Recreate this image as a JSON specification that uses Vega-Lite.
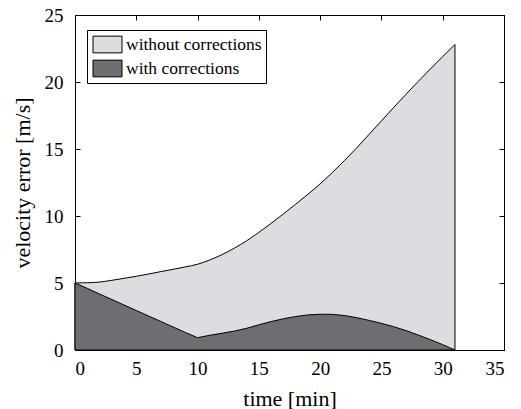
{
  "$schema": "https://vega.github.io/schema/vega-lite/v6.json",
  "width": 429,
  "height": 335,
  "autosize": "none",
  "padding": {"left": 75, "top": 15, "right": 17, "bottom": 59},
  "background": "white",
  "config": {
    "view": {"stroke": "black", "strokeWidth": 1},
    "font": "Liberation Serif",
    "axis": {
      "grid": false,
      "domainColor": "black",
      "domainWidth": 1,
      "tickColor": "black",
      "tickWidth": 1,
      "tickSize": -5,
      "labelFont": "Liberation Serif",
      "labelFontSize": 19,
      "labelColor": "black",
      "titleFont": "Liberation Serif",
      "titleFontSize": 22,
      "titleFontWeight": "normal",
      "titleColor": "black"
    },
    "legend": {"labelFont": "Liberation Serif", "labelFontSize": 17.5}
  },
  "datasets": {
    "without": [
      {"t": 0, "v": 5.0, "series": "without corrections"},
      {"t": 1, "v": 5.02, "series": "without corrections"},
      {"t": 2, "v": 5.07, "series": "without corrections"},
      {"t": 3, "v": 5.2, "series": "without corrections"},
      {"t": 4, "v": 5.35, "series": "without corrections"},
      {"t": 5, "v": 5.5, "series": "without corrections"},
      {"t": 6, "v": 5.67, "series": "without corrections"},
      {"t": 7, "v": 5.85, "series": "without corrections"},
      {"t": 8, "v": 6.02, "series": "without corrections"},
      {"t": 9, "v": 6.2, "series": "without corrections"},
      {"t": 10, "v": 6.4, "series": "without corrections"},
      {"t": 11, "v": 6.72, "series": "without corrections"},
      {"t": 12, "v": 7.12, "series": "without corrections"},
      {"t": 13, "v": 7.6, "series": "without corrections"},
      {"t": 14, "v": 8.15, "series": "without corrections"},
      {"t": 15, "v": 8.78, "series": "without corrections"},
      {"t": 16, "v": 9.45, "series": "without corrections"},
      {"t": 17, "v": 10.15, "series": "without corrections"},
      {"t": 18, "v": 10.88, "series": "without corrections"},
      {"t": 19, "v": 11.62, "series": "without corrections"},
      {"t": 20, "v": 12.4, "series": "without corrections"},
      {"t": 21, "v": 13.25, "series": "without corrections"},
      {"t": 22, "v": 14.15, "series": "without corrections"},
      {"t": 23, "v": 15.1, "series": "without corrections"},
      {"t": 24, "v": 16.1, "series": "without corrections"},
      {"t": 25, "v": 17.1, "series": "without corrections"},
      {"t": 26, "v": 18.1, "series": "without corrections"},
      {"t": 27, "v": 19.08, "series": "without corrections"},
      {"t": 28, "v": 20.04, "series": "without corrections"},
      {"t": 29, "v": 20.98, "series": "without corrections"},
      {"t": 30, "v": 21.9, "series": "without corrections"},
      {"t": 31, "v": 22.8, "series": "without corrections"}
    ],
    "with": [
      {"t": 0, "v": 5.0, "series": "with corrections"},
      {"t": 1, "v": 4.6, "series": "with corrections"},
      {"t": 2, "v": 4.18, "series": "with corrections"},
      {"t": 3, "v": 3.77, "series": "with corrections"},
      {"t": 4, "v": 3.36, "series": "with corrections"},
      {"t": 5, "v": 2.95, "series": "with corrections"},
      {"t": 6, "v": 2.54, "series": "with corrections"},
      {"t": 7, "v": 2.13, "series": "with corrections"},
      {"t": 8, "v": 1.72, "series": "with corrections"},
      {"t": 9, "v": 1.31, "series": "with corrections"},
      {"t": 10, "v": 0.92, "series": "with corrections"},
      {"t": 11, "v": 1.1, "series": "with corrections"},
      {"t": 12, "v": 1.25, "series": "with corrections"},
      {"t": 13, "v": 1.41, "series": "with corrections"},
      {"t": 14, "v": 1.62, "series": "with corrections"},
      {"t": 15, "v": 1.88, "series": "with corrections"},
      {"t": 16, "v": 2.12, "series": "with corrections"},
      {"t": 17, "v": 2.33, "series": "with corrections"},
      {"t": 18, "v": 2.5, "series": "with corrections"},
      {"t": 19, "v": 2.62, "series": "with corrections"},
      {"t": 20, "v": 2.67, "series": "with corrections"},
      {"t": 21, "v": 2.66, "series": "with corrections"},
      {"t": 22, "v": 2.57, "series": "with corrections"},
      {"t": 23, "v": 2.41, "series": "with corrections"},
      {"t": 24, "v": 2.21, "series": "with corrections"},
      {"t": 25, "v": 1.99, "series": "with corrections"},
      {"t": 26, "v": 1.74, "series": "with corrections"},
      {"t": 27, "v": 1.45, "series": "with corrections"},
      {"t": 28, "v": 1.12, "series": "with corrections"},
      {"t": 29, "v": 0.77, "series": "with corrections"},
      {"t": 30, "v": 0.4, "series": "with corrections"},
      {"t": 31, "v": 0.0, "series": "with corrections"}
    ]
  },
  "layer": [
    {
      "data": {"name": "without"},
      "mark": {"type": "area", "stroke": "black", "strokeWidth": 1, "opacity": 1, "interpolate": "monotone"},
      "encoding": {
        "x": {
          "field": "t", "type": "quantitative",
          "scale": {"domain": [0, 35], "nice": false, "zero": false},
          "axis": {"orient": "bottom", "values": [0, 5, 10, 15, 20, 25, 30, 35], "title": "time [min]", "labelPadding": 14, "titlePadding": 10}
        },
        "y": {
          "field": "v", "type": "quantitative", "stack": null,
          "scale": {"domain": [0, 25], "nice": false},
          "axis": {"orient": "left", "values": [0, 5, 10, 15, 20, 25], "title": "velocity error [m/s]", "labelPadding": 17, "titlePadding": 10}
        },
        "color": {
          "field": "series", "type": "nominal",
          "scale": {"domain": ["without corrections", "with corrections"], "range": ["#dcdde0", "#6d6e72"]},
          "legend": {
            "title": null,
            "orient": "none",
            "legendX": 12,
            "legendY": 15,
            "padding": 4,
            "rowPadding": 3,
            "strokeColor": "black",
            "fillColor": "white",
            "symbolType": "M-1.45,-0.835H1.45V0.835H-1.45Z",
            "symbolSize": 400,
            "symbolStrokeColor": "black",
            "symbolStrokeWidth": 1,
            "symbolOpacity": 1,
            "symbolOffset": 6,
            "labelOffset": 8,
            "labelFont": "Liberation Serif",
            "labelFontSize": 17.5,
            "labelColor": "black",
            "labelLimit": 300
          }
        }
      }
    },
    {
      "data": {"name": "with"},
      "mark": {"type": "area", "stroke": "black", "strokeWidth": 1, "opacity": 1, "interpolate": "linear"},
      "encoding": {
        "x": {"field": "t", "type": "quantitative", "axis": null},
        "y": {"field": "v", "type": "quantitative", "stack": null, "axis": null},
        "color": {"field": "series", "type": "nominal"}
      }
    },
    {
      "data": {"name": "without"},
      "mark": {"type": "point", "opacity": 0},
      "encoding": {
        "x": {
          "field": "t", "type": "quantitative",
          "axis": {"orient": "top", "values": [0, 5, 10, 15, 20, 25, 30, 35], "labels": false, "title": null}
        },
        "y": {
          "field": "v", "type": "quantitative",
          "axis": {"orient": "right", "values": [0, 5, 10, 15, 20, 25], "labels": false, "title": null}
        }
      }
    }
  ],
  "resolve": {"axis": {"x": "independent", "y": "independent"}}
}
